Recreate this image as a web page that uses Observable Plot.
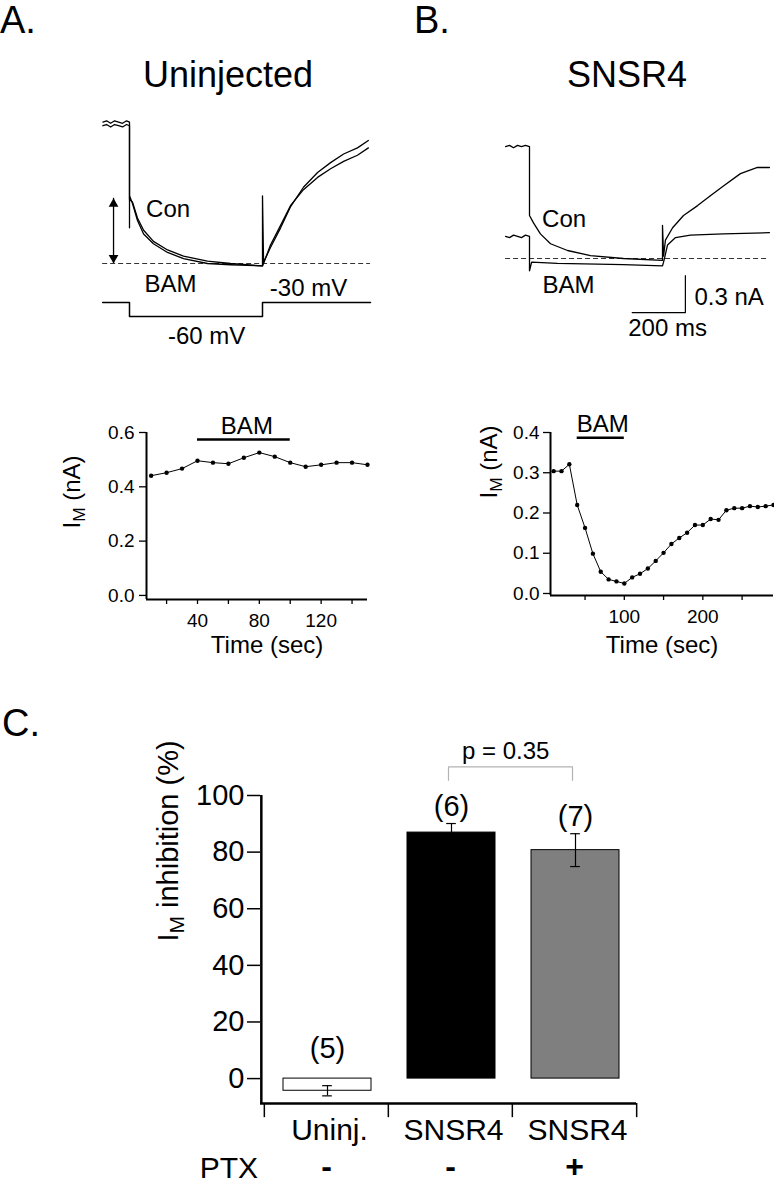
<!DOCTYPE html>
<html><head><meta charset="utf-8">
<script src="https://cdn.jsdelivr.net/npm/d3@7"></script>
<script src="https://cdn.jsdelivr.net/npm/@observablehq/plot@0.6"></script>
<style>
body{margin:0;background:#fff;}
#fig{position:relative;width:774px;height:1200px;font-family:"Liberation Sans",Arial,Helvetica,sans-serif;color:#000;overflow:hidden;}
#fig svg{position:absolute;left:0;top:0;background:transparent;overflow:visible;}
.lab{position:absolute;line-height:1;white-space:nowrap;}
</style></head><body><div id="fig">
<div class="lab" style="left:0px;top:1px;font-size:38px;">A.</div>
<div class="lab" style="left:414px;top:1px;font-size:38px;">B.</div>
<div class="lab" style="left:228px;top:57px;font-size:36px;transform:translateX(-50%);">Uninjected</div>
<div class="lab" style="left:627px;top:57px;font-size:36px;transform:translateX(-50%);">SNSR4</div>
<div class="lab" style="left:2px;top:704px;font-size:38px;">C.</div>
</div>
<script>
// ---------- DATA ----------
// Panel A current traces (time in ms from step onset, current in nA relative to steady state at -60 mV)
const traceA_con_t = [-100,-86,-71,-56,-41,-26,-11,0,0,0,11,30,53,90,143,203,293,380,500,500,504,530,568,605,654,707,756,805,857,898];
const traceA_con_i = [1.15,1.16,1.14,1.16,1.15,1.14,1.16,1.15,0.29,0.55,0.49,0.35,0.24,0.16,0.09,0.04,0.0,-0.01,-0.02,0.55,0.01,0.13,0.29,0.46,0.62,0.74,0.82,0.89,0.94,1.0];
const traceA_bam_t = [-100,-86,-71,-56,-41,-26,-11,0,0,11,30,53,90,143,203,293,380,500,504,530,568,605,654,707,756,805,857,898];
const traceA_bam_i = [1.12,1.13,1.11,1.13,1.12,1.11,1.13,1.12,0.52,0.50,0.37,0.27,0.18,0.11,0.06,0.02,0.0,-0.02,0.0,0.15,0.31,0.47,0.60,0.70,0.77,0.83,0.88,0.94];
const sweepA = [-101, 906];
const deactA = {t: -60, top: 0.53, bottom: 0};
// voltage protocol
const protocol_t  = [-101, 0, 0, 500, 500, 906];
const protocol_mV = [-30, -30, -60, -60, -30, -30];
// Panel B current traces
const traceB_con_t = [-90,-75,-60,-45,-30,-15,0,0,15,41,79,143,229,353,500,500,504,511,538,579,632,680,729,793,857,902];
const traceB_con_i = [0.91,0.92,0.90,0.92,0.91,0.92,0.91,0.35,0.29,0.20,0.12,0.065,0.024,0,-0.016,0.27,0.02,0.15,0.25,0.35,0.43,0.51,0.59,0.69,0.74,0.74];
const traceB_bam_t = [-90,-75,-60,-45,-30,-15,0,0,8,105,353,500,504,519,549,605,729,902];
const traceB_bam_i = [0.18,0.17,0.19,0.18,0.17,0.19,0.18,-0.10,-0.03,-0.04,-0.05,-0.06,-0.03,0.11,0.17,0.19,0.20,0.21];
const sweepB = [-90, 902];
// Time courses of I_M (sec, nA)
const timeA_sec = [10,20,30,40,50,60,70,80,90,100,110,120,130,140,150];
const timeA_nA  = [0.441,0.452,0.467,0.496,0.489,0.485,0.507,0.526,0.511,0.489,0.474,0.481,0.489,0.489,0.481];
const timeB_sec = [10,20,30,40,50,60,70,80,90,100,110,120,130,140,150,160,170,180,190,200,210,220,230,240,250,260,270,280,290];
const timeB_nA  = [0.304,0.304,0.321,0.220,0.163,0.099,0.054,0.035,0.030,0.025,0.040,0.049,0.062,0.081,0.101,0.123,0.138,0.151,0.170,0.170,0.185,0.183,0.207,0.212,0.212,0.217,0.215,0.217,0.220];
const bamPeriod = [40, 100];
// Panel C
const groups = ["Uninj.", "SNSR4", "SNSR4"];
const ptx = ["-", "-", "+"];
const inhibition = [-4.3, 86.9, 80.7];
const sem = [1.8, 3.2, 5.8];
const nCells = [5, 6, 7];
const pText = "p = 0.35";
const yTicksC = [0, 20, 40, 60, 80, 100];
// styles
const barColors = ["white", "black", "#7f7f7f"];

// ---------- DRAW ----------
const W = 774, H = 1200;
const FONT = '"Liberation Sans", Arial, Helvetica, sans-serif';
const fig = document.getElementById("fig");
const rowsOf = (ts, vs) => ts.map((t, i) => ({t, v: vs[i]}));
function add(opts) {
  const svg = Plot.plot({width: W, height: H,
    style: {background: "transparent", fontFamily: FONT, color: "black", overflow: "visible"}, ...opts});
  fig.appendChild(svg);
  return svg;
}
function subM(svg) {
  d3.select(svg).selectAll("text").each(function () {
    const el = d3.select(this);
    const s = el.text();
    if (s.startsWith("IM ")) {
      const fs = parseFloat(el.attr("font-size") || d3.select(this.parentNode).attr("font-size") || 24);
      el.text(null);
      el.append("tspan").text("I");
      el.append("tspan").attr("font-size", fs * 0.72).attr("dy", fs * 0.2).text("M");
      el.append("tspan").attr("dy", -fs * 0.2).text(s.slice(2));
    }
  });
}

// Panel A traces
const xA = {domain: [0, 500], range: [129, 262], axis: null};
add({
  x: xA, y: {domain: [0, 1], range: [263, 140], axis: null},
  marks: [
    Plot.ruleY([0], {x1: sweepA[0], x2: sweepA[1], strokeDasharray: "5,3", strokeWidth: 0.8}),
    Plot.line(rowsOf(traceA_con_t, traceA_con_i), {x: "t", y: "v", strokeWidth: 1.3}),
    Plot.line(rowsOf(traceA_bam_t, traceA_bam_i), {x: "t", y: "v", strokeWidth: 1.3}),
    Plot.ruleX([deactA], {x: "t", y1: "bottom", y2: "top", strokeWidth: 1.3}),
    Plot.dot([deactA], {x: "t", y: "top", symbol: "triangle", r: 3.6, fill: "black", stroke: null, dy: 5.6}),
    Plot.dot([deactA], {x: "t", y: "bottom", symbol: "triangle", r: 3.6, fill: "black", stroke: null, rotate: 180, dy: -5.6}),
    Plot.text([{s: "Con", t: 145, v: 0.44}, {s: "BAM", t: 154, v: -0.17}, {s: "-30 mV", t: 673, v: -0.2}, {s: "-60 mV", t: 290, v: -0.59}],
      {x: "t", y: "v", text: "s", fontSize: 24})
  ]
});
add({
  x: xA, y: {domain: [-60, -30], range: [316, 302], axis: null},
  marks: [Plot.line(rowsOf(protocol_t, protocol_mV), {x: "t", y: "v", strokeWidth: 1.5})]
});

// Panel B traces
add({
  x: {domain: [0, 500], range: [529, 662], axis: null},
  y: {domain: [0, 1], range: [258, 135], axis: null},
  marks: [
    Plot.ruleY([0], {x1: sweepB[0], x2: sweepB[1], strokeDasharray: "5,3", strokeWidth: 0.8}),
    Plot.line(rowsOf(traceB_con_t, traceB_con_i), {x: "t", y: "v", strokeWidth: 1.3}),
    Plot.line(rowsOf(traceB_bam_t, traceB_bam_i), {x: "t", y: "v", strokeWidth: 1.3}),
    Plot.line([{t: 386, v: -0.44}, {t: 586, v: -0.44}, {t: 586, v: -0.14}], {x: "t", y: "v", strokeWidth: 1.2}),
    Plot.text([{s: "Con", t: 130, v: 0.32}, {s: "BAM", t: 147, v: -0.22}, {s: "200 ms", t: 519, v: -0.57}],
      {x: "t", y: "v", text: "s", fontSize: 24}),
    Plot.text([{s: "0.3 nA", t: 620, v: -0.317}], {x: "t", y: "v", text: "s", fontSize: 24, textAnchor: "start"})
  ]
});

// Time course left
const svgTL = add({
  marginLeft: 146, marginRight: W - 367, marginTop: 432, marginBottom: H - 599,
  x: {domain: [7, 150]}, y: {domain: [-0.015, 0.6]},
  marks: [
    Plot.axisY({ticks: [0, 0.2, 0.4, 0.6], tickFormat: ".1f", tickSize: 7, tickPadding: 5, fontSize: 19, label: null, strokeWidth: 1.3}),
    Plot.axisX({ticks: [20, 40, 60, 80, 100, 120, 140], tickFormat: d => d % 40 === 0 ? String(d) : "", tickSize: 5, tickPadding: 9, fontSize: 19, label: null, strokeWidth: 1.3}),
    Plot.ruleX([7], {y1: -0.015, y2: 0.6, strokeWidth: 2}),
    Plot.ruleY([-0.015], {strokeWidth: 2}),
    Plot.ruleY([0.574], {x1: bamPeriod[0], x2: bamPeriod[1], strokeWidth: 2.5}),
    Plot.text(["BAM"], {x: (bamPeriod[0] + bamPeriod[1]) / 2, y: 0.574, text: d => d, dy: -13, dx: 3, fontSize: 24}),
    Plot.line(rowsOf(timeA_sec, timeA_nA), {x: "t", y: "v", strokeWidth: 1}),
    Plot.dot(rowsOf(timeA_sec, timeA_nA), {x: "t", y: "v", r: 2.2, fill: "black"}),
    Plot.text(["Time (sec)"], {x: 85, text: d => d, frameAnchor: "bottom", dy: 53, fontSize: 24}),
    Plot.text(["IM (nA)"], {text: d => d, frameAnchor: "left", dx: -74, dy: 12.5, rotate: -90, fontSize: 24})
  ]
});
subM(svgTL);

// Time course right
const svgTR = add({
  marginLeft: 550, marginRight: 1, marginTop: 432, marginBottom: H - 595,
  x: {domain: [6, 290]}, y: {domain: [-0.005, 0.4]},
  marks: [
    Plot.axisY({ticks: [0, 0.1, 0.2, 0.3, 0.4], tickFormat: ".1f", tickSize: 7, tickPadding: 4, fontSize: 19, label: null, strokeWidth: 1.3}),
    Plot.axisX({ticks: [50, 100, 150, 200, 250], tickFormat: d => d % 100 === 0 ? String(d) : "", tickSize: 5, tickPadding: 9, fontSize: 19, label: null, strokeWidth: 1.3}),
    Plot.ruleX([6], {y1: -0.005, y2: 0.4, strokeWidth: 2}),
    Plot.ruleY([-0.005], {strokeWidth: 2}),
    Plot.ruleY([0.387], {x1: bamPeriod[0], x2: bamPeriod[1], strokeWidth: 2.5}),
    Plot.text(["BAM"], {x: (bamPeriod[0] + bamPeriod[1]) / 2, y: 0.387, text: d => d, dy: -13, dx: 2, fontSize: 24}),
    Plot.line(rowsOf(timeB_sec, timeB_nA), {x: "t", y: "v", strokeWidth: 1}),
    Plot.dot(rowsOf(timeB_sec, timeB_nA), {x: "t", y: "v", r: 2.2, fill: "black"}),
    Plot.text(["Time (sec)"], {x: 148, text: d => d, frameAnchor: "bottom", dy: 57, fontSize: 24}),
    Plot.text(["IM (nA)"], {text: d => d, frameAnchor: "left", dx: -61, dy: -15.5, rotate: -90, fontSize: 24})
  ]
});
subM(svgTR);

// Panel C bar chart
const idx = groups.map((_, i) => i);
const bw = (636 - 263) / groups.length;
const yMinC = -8.8;
const capRows = idx.flatMap(i => [{i, v: inhibition[i] - sem[i]}, {i, v: inhibition[i] + sem[i]}]);
const topC = idx.filter(i => i > 0).map(i => inhibition[i] + sem[i]);
const bracketY = Math.max(...topC) + 20, bracketDrop = 4.7;
const svgC = add({
  marginLeft: 260, marginRight: W - 636, marginTop: 795, marginBottom: H - 1103,
  x: {type: "band", domain: idx, range: [263, 636], padding: 0, axis: null},
  y: {domain: [yMinC, 100]},
  color: {type: "identity"},
  marks: [
    Plot.axisY({ticks: yTicksC, tickSize: 13, tickPadding: 3, fontSize: 29, label: null, strokeWidth: 1.5}),
    Plot.barY(idx, {x: d => d, y: i => inhibition[i], fill: i => barColors[i], stroke: "black", strokeWidth: 1, insetLeft: 19, insetRight: 17}),
    Plot.ruleX(idx, {x: d => d, y1: i => inhibition[i] - sem[i], y2: i => inhibition[i] + sem[i], dx: 1, strokeWidth: 1.2}),
    Plot.tickY(capRows, {x: "i", y: "v", insetLeft: bw / 2 - 4, insetRight: bw / 2 - 6, strokeWidth: 1.2}),
    Plot.text(idx, {x: d => d, y: i => Math.max(inhibition[i] + sem[i], 4.5) + 6, text: i => `(${nCells[i]})`, dx: 1, fontSize: 29}),
    Plot.ruleY([yMinC], {strokeWidth: 2.5}),
    Plot.ruleX([0], {x: d => d, dx: -bw / 2 - 3, y1: yMinC, y2: 100, strokeWidth: 2.5}),
    Plot.ruleX(idx, {x: d => d, dx: -bw / 2, y1: yMinC, y2: yMinC - 5, strokeWidth: 1.5}),
    Plot.ruleX([idx.length - 1], {x: d => d, dx: bw / 2, y1: yMinC, y2: yMinC - 5, strokeWidth: 1.5}),
    Plot.line([{i: 1, v: bracketY - bracketDrop}, {i: 1, v: bracketY}, {i: 2, v: bracketY}, {i: 2, v: bracketY - bracketDrop}],
      {x: "i", y: "v", dx: -2, stroke: "#b3b3b3", strokeWidth: 1.2}),
    Plot.text([pText], {x: 1, y: bracketY, text: d => d, dx: bw / 2 - 7, dy: -16, fontSize: 24}),
    Plot.text(idx, {x: d => d, text: i => groups[i], frameAnchor: "bottom", dy: 36.4, dx: 3, fontSize: 30}),
    Plot.text(idx, {x: d => d, text: i => ptx[i], frameAnchor: "bottom", dy: 73.8, fontSize: 32, fontWeight: "bold"}),
    Plot.text(["PTX"], {x: 0, text: d => d, frameAnchor: "bottom", dx: -97.7, dy: 74.4, fontSize: 30}),
    Plot.text(["IM inhibition (%)"], {text: d => d, frameAnchor: "left", dx: -92, dy: -8, rotate: -90, fontSize: 29})
  ]
});
subM(svgC);
</script></body></html>
